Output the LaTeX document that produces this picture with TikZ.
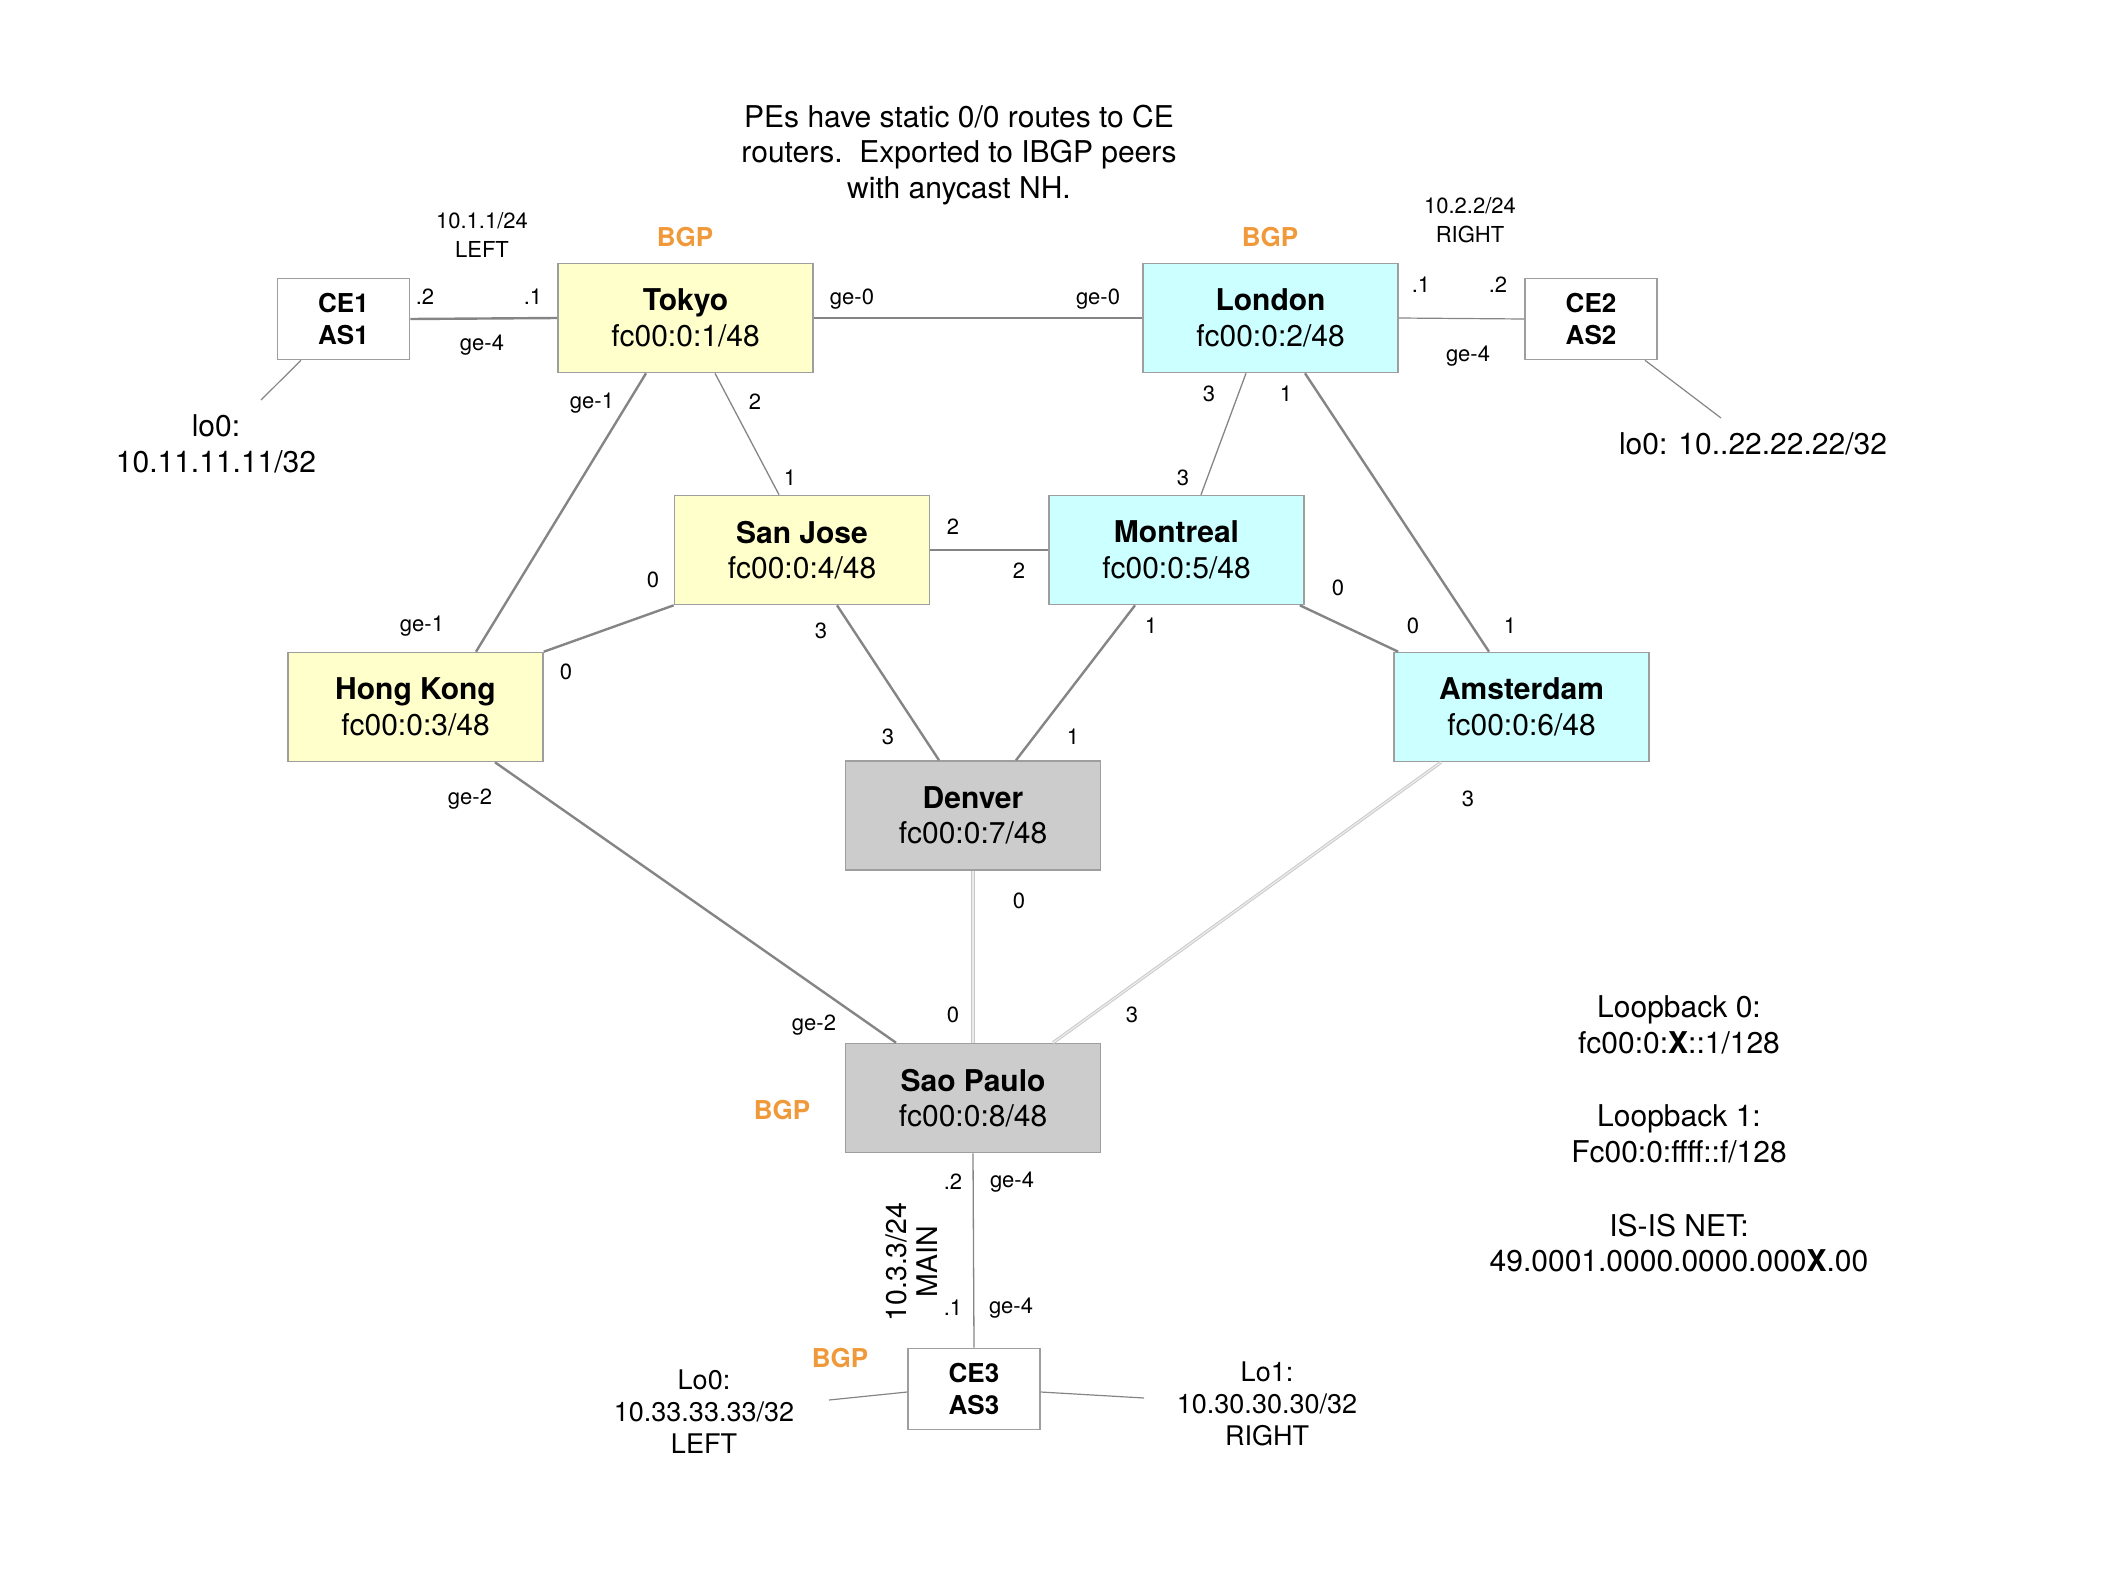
\documentclass[tikz,border=0pt]{standalone}
\usepackage{fontspec}
\setmainfont{TeX Gyre Heros}

\definecolor{pefill}{HTML}{FFFFCC}
\definecolor{pcfill}{HTML}{CCFFFF}
\definecolor{corefill}{HTML}{CCCCCC}
\definecolor{boxline}{HTML}{9E9E9E}
\definecolor{linkc}{HTML}{858585}
\definecolor{bgporange}{HTML}{F0993A}

\tikzset{
  router/.style={draw=boxline, line width=1.6pt, minimum width=255pt, minimum height=109pt,
    align=center, inner sep=0pt, font=\fontsize{30}{35.5}\selectfont},
  westpe/.style={router, fill=pefill},
  eastpe/.style={router, fill=pcfill},
  core/.style={router, fill=corefill},
  cebox/.style={draw=boxline, line width=1.6pt, fill=white, minimum width=132pt, minimum height=81pt,
    align=center, inner sep=0pt, font=\fontsize{26}{32.5}\selectfont\bfseries},
  port/.style={inner sep=0pt, font=\fontsize{22}{28.5}\selectfont, align=center},
  bgp/.style={inner sep=0pt, text=bgporange, font=\fontsize{26}{30}\selectfont\bfseries},
  note/.style={inner sep=0pt, align=center, font=\fontsize{30}{35.5}\selectfont},
  addr/.style={inner sep=0pt, align=center, font=\fontsize{27}{32}\selectfont},
  link/.style={draw=linkc, line width=2.4pt},
  thinlink/.style={draw=linkc, line width=1.3pt},
  stub/.style={draw=linkc, line width=1.2pt},
  paleline/.style={draw=black!22, double=black!8, line width=0.9pt, double distance=1.4pt},
}

\begin{document}
\begin{tikzpicture}[x=1pt,y=-1pt]
\useasboundingbox (0,0) rectangle (2128,1590);

% routers
\node[westpe] (tokyo) at (685.5,318) {\textbf{Tokyo}\\fc00:0:1/48};
\node[eastpe] (london) at (1270.5,318) {\textbf{London}\\fc00:0:2/48};
\node[westpe] (sanjose) at (802,550) {\textbf{San Jose}\\fc00:0:4/48};
\node[eastpe] (montreal) at (1176.5,550) {\textbf{Montreal}\\fc00:0:5/48};
\node[westpe] (hongkong) at (415.5,707) {\textbf{Hong Kong}\\fc00:0:3/48};
\node[eastpe] (amsterdam) at (1521.5,707) {\textbf{Amsterdam}\\fc00:0:6/48};
\node[core] (denver) at (973,815.5) {\textbf{Denver}\\fc00:0:7/48};
\node[core] (saopaulo) at (973,1098) {\textbf{Sao Paulo}\\fc00:0:8/48};

% customer edge routers
\node[cebox] (ce1) at (343.5,319) {CE1\\AS1};
\node[cebox] (ce2) at (1591,319) {CE2\\AS2};
\node[cebox] (ce3) at (974,1389) {CE3\\AS3};

% loopback stub end points
\coordinate (ce1lo) at (261,400);
\coordinate (ce2lo) at (1721,418);
\coordinate (ce3lo0) at (829,1400);
\coordinate (ce3lo1) at (1144,1398);

% links
\draw[link] (ce1.east) -- (tokyo.west);
\draw[link] (tokyo.east) -- (london.west);
\draw[stub] (london.east) -- (ce2.west);
\draw[link] ([xshift=-39.5pt]tokyo.south) -- ([xshift=60.5pt]hongkong.north);
\draw[thinlink] ([xshift=29.5pt]tokyo.south) -- ([xshift=-23pt]sanjose.north);
\draw[thinlink] ([xshift=-24.5pt]london.south) -- ([xshift=24.5pt]montreal.north);
\draw[link] ([xshift=34.5pt]london.south) -- ([xshift=-32.5pt]amsterdam.north);
\draw[link] (sanjose.east) -- (montreal.west);
\draw[link] (hongkong.north east) -- (sanjose.south west);
\draw[link] ([xshift=35pt]sanjose.south) -- ([xshift=-34pt]denver.north);
\draw[link] ([xshift=-41.5pt]montreal.south) -- ([xshift=43pt]denver.north);
\draw[link] ([xshift=-5pt]montreal.south east) -- ([xshift=5pt]amsterdam.north west);
\draw[link] ([xshift=79.5pt]hongkong.south) -- ([xshift=-77pt]saopaulo.north);
\draw[paleline] (denver.south) -- (saopaulo.north);
\draw[paleline] ([xshift=-80.5pt]amsterdam.south) -- ([xshift=80pt]saopaulo.north);
\draw[thinlink] (saopaulo.south) -- (ce3.north);
\draw[stub] ([xshift=-42.5pt]ce1.south) -- (ce1lo);
\draw[stub] ([xshift=54pt]ce2.south) -- (ce2lo);
\draw[stub] ([yshift=-3pt]ce3.west) -- (ce3lo0);
\draw[stub] ([yshift=-3pt]ce3.east) -- (ce3lo1);

% port and metric labels
\node[port] (p01) at (482,235) {10.1.1/24\\LEFT};
\node[port] (p02) at (1470,220) {10.2.2/24\\RIGHT};
\node[port] (p03) at (425,297) {.2};
\node[port] (p04) at (533,297) {.1};
\node[port] (p05) at (482,345) {ge-4};
\node[port] (p06) at (852,299) {ge-0};
\node[port] (p07) at (1098,299) {ge-0};
\node[port] (p08) at (1421,285) {.1};
\node[port] (p09) at (1498,285) {.2};
\node[port] (p10) at (1468,356) {ge-4};
\node[port] (p11) at (592,403) {ge-1};
\node[port] (p12) at (422,626) {ge-1};
\node[port] (p13) at (755,402) {2};
\node[port] (p14) at (790,478) {1};
\node[port] (p15) at (1209,394) {3};
\node[port] (p16) at (1183,478) {3};
\node[port] (p17) at (1286,394) {1};
\node[port] (p18) at (1510,626) {1};
\node[port] (p19) at (953,527) {2};
\node[port] (p20) at (1019,571) {2};
\node[port] (p21) at (653,580) {0};
\node[port] (p22) at (566,672) {0};
\node[port] (p23) at (821,631) {3};
\node[port] (p24) at (888,737) {3};
\node[port] (p25) at (1151,626) {1};
\node[port] (p26) at (1073,737) {1};
\node[port] (p27) at (1338,588) {0};
\node[port] (p28) at (1413,626) {0};
\node[port] (p29) at (470,799) {ge-2};
\node[port] (p30) at (814,1025) {ge-2};
\node[port] (p31) at (1019,901) {0};
\node[port] (p32) at (953,1015) {0};
\node[port] (p33) at (1468,799) {3};
\node[port] (p34) at (1132,1015) {3};
\node[port] (p35) at (953,1182) {.2};
\node[port] (p36) at (1012,1182) {ge-4};
\node[port] (p37) at (953,1308) {.1};
\node[port] (p38) at (1011,1308) {ge-4};
\node[inner sep=0pt, align=center, rotate=90, font=\fontsize{28.5}{31}\selectfont] (mainnet) at (912,1262) {10.3.3/24\\MAIN};

% BGP speakers
\node[bgp] (bgp1) at (685,237) {BGP};
\node[bgp] (bgp2) at (1270,237) {BGP};
\node[bgp] (bgp3) at (782,1110) {BGP};
\node[bgp] (bgp4) at (840,1358) {BGP};

% notes
\node[note] (anycast) at (959,155) {PEs have static 0/0 routes to CE\\routers.\ \ Exported to IBGP peers\\with anycast NH.};
\node[note] (ce1addr) at (216,444) {lo0:\\10.11.11.11/32};
\node[note] (ce2addr) at (1753,444) {lo0: 10..22.22.22/32};
\node[addr] (ce3lo0txt) at (704,1412) {Lo0:\\10.33.33.33/32\\LEFT};
\node[addr] (ce3lo1txt) at (1267,1404) {Lo1:\\10.30.30.30/32\\RIGHT};
\node[note] (lb0) at (1679,1025) {Loopback 0:\\fc00:0:\textbf{X}::1/128};
\node[note] (lb1) at (1679,1134) {Loopback 1:\\Fc00:0:ffff::f/128};
\node[note] (isis) at (1679,1243) {IS-IS NET:\\49.0001.0000.0000.000\textbf{X}.00};
\end{tikzpicture}
\end{document}
